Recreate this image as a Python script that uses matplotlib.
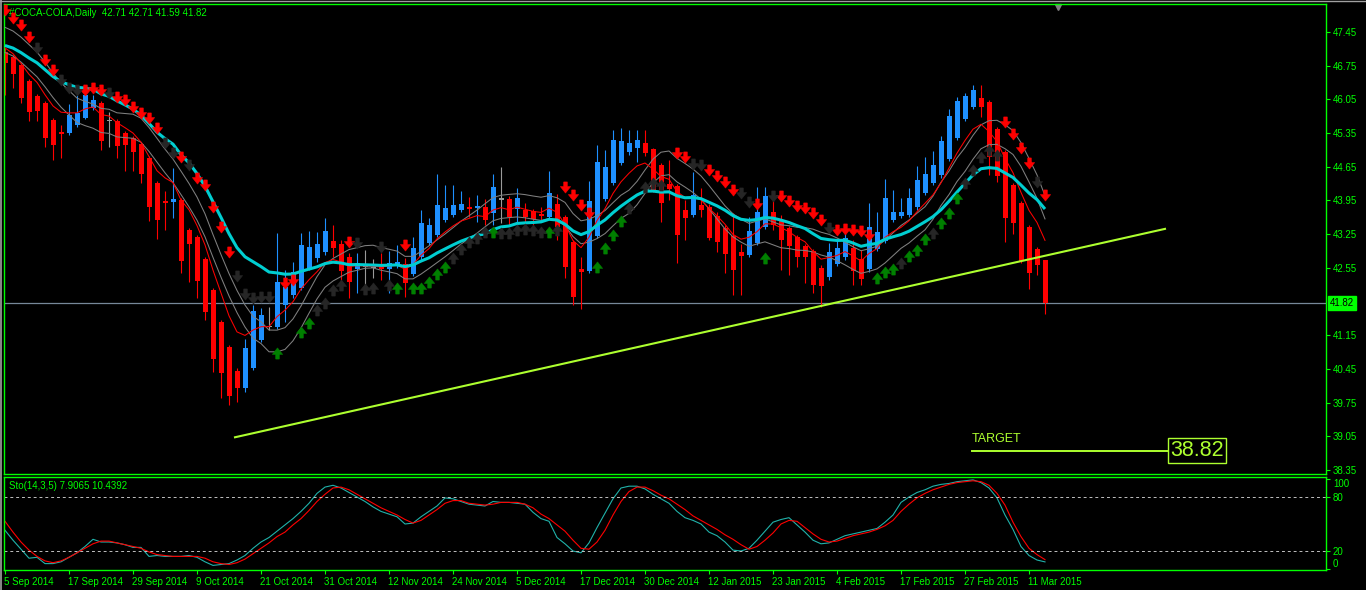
import numpy as np
import pandas as pd
import matplotlib
matplotlib.use("Agg")
import matplotlib.pyplot as plt
from matplotlib.path import Path
from matplotlib.lines import Line2D
import matplotlib.transforms as mtrans

plt.rcParams['font.family'] = ['Liberation Sans', 'DejaVu Sans']

W, H = 1366, 590

# daily bars 5 Sep 2014 .. 13 Mar 2015
symbol = "#COCA-COLA,Daily"
opens = [47.03, 46.93, 46.77, 46.43, 46.12, 45.98, 45.62, 45.37, 45.35, 45.52,
         45.66, 45.87, 45.98, 45.60, 45.60, 45.35, 45.25, 45.12, 44.83, 44.31,
         43.94, 43.92, 43.96, 43.34, 43.19, 42.73, 42.09, 41.42, 40.91, 40.41,
         40.05, 40.47, 41.05, 41.33, 41.32, 41.78, 41.99, 42.13, 42.55, 42.75,
         42.88, 43.11, 43.05, 42.77, 42.53, 42.57, 42.55, 42.63, 42.53, 42.59,
         42.63, 42.42, 42.77, 43.07, 43.23, 43.54, 43.65, 43.75, 43.81, 43.79,
         43.81, 43.69, 43.97, 43.98, 43.77, 43.75, 43.73, 43.67, 43.61, 43.88,
         43.61, 43.09, 42.53, 42.48, 43.21, 43.98, 44.31, 44.73, 44.96, 45.04,
         45.14, 45.02, 44.69, 44.29, 44.25, 43.75, 43.65, 43.86, 43.81, 43.63,
         43.38, 43.21, 42.88, 42.82, 43.07, 43.40, 43.71, 43.54, 43.38, 43.19,
         43.00, 42.90, 42.55, 42.36, 42.63, 42.77, 42.96, 42.73, 42.53, 42.94,
         43.11, 43.54, 43.63, 43.65, 43.81, 44.10, 44.31, 44.48, 44.81, 45.25,
         45.64, 45.89, 46.08, 46.00, 45.43, 44.96, 44.27, 43.90, 43.40, 42.94,
         42.71]
highs = [47.12, 46.97, 46.81, 46.47, 46.16, 46.02, 45.66, 45.52, 45.95, 46.14,
         46.25, 46.14, 46.02, 45.79, 45.64, 45.39, 45.29, 45.16, 44.87, 44.35,
         44.15, 44.62, 44.00, 43.38, 43.23, 42.77, 42.13, 41.47, 40.95, 40.47,
         41.07, 41.78, 41.72, 41.74, 43.27, 42.51, 42.67, 43.27, 43.32, 43.30,
         43.59, 43.44, 43.13, 42.86, 42.86, 42.92, 42.73, 42.86, 42.90, 43.03,
         42.75, 43.19, 43.75, 43.59, 44.50, 44.27, 44.27, 44.15, 44.02, 44.06,
         43.98, 44.50, 44.65, 44.04, 44.21, 43.90, 43.77, 43.81, 44.56, 44.08,
         43.65, 43.13, 42.77, 44.35, 45.10, 45.00, 45.41, 45.46, 45.41, 45.41,
         45.41, 45.04, 44.73, 44.79, 44.29, 43.96, 44.54, 44.21, 43.88, 43.71,
         43.44, 43.69, 43.05, 43.61, 44.23, 44.23, 43.96, 43.65, 43.42, 43.23,
         43.05, 42.94, 42.61, 43.07, 43.13, 43.40, 43.13, 42.92, 43.90, 43.71,
         44.40, 44.17, 44.00, 44.21, 44.66, 44.85, 44.98, 45.29, 45.85, 46.10,
         46.18, 46.35, 46.35, 46.04, 45.48, 45.00, 44.31, 43.94, 43.44, 42.98,
         42.71]
lows = [46.14, 46.29, 45.98, 45.60, 45.60, 45.06, 44.79, 44.83, 45.31, 45.48,
        45.64, 45.83, 45.00, 45.06, 44.83, 44.56, 44.56, 44.31, 43.52, 43.15,
        43.34, 43.59, 42.44, 42.26, 41.92, 41.47, 40.39, 39.85, 39.70, 39.76,
        39.97, 40.43, 41.01, 41.26, 41.28, 41.42, 41.92, 42.09, 42.51, 42.67,
        42.82, 42.77, 42.30, 41.92, 42.03, 42.03, 42.34, 42.30, 42.03, 42.55,
        41.94, 42.38, 42.71, 43.03, 43.19, 43.50, 43.61, 43.71, 43.61, 43.50,
        43.44, 43.44, 43.48, 43.44, 43.40, 43.44, 43.44, 43.50, 43.57, 43.13,
        42.34, 41.78, 41.70, 42.44, 43.17, 43.94, 44.27, 44.69, 44.89, 44.75,
        44.87, 44.13, 43.50, 43.96, 42.65, 43.13, 43.61, 43.61, 43.13, 42.88,
        42.44, 41.99, 41.99, 42.77, 43.03, 43.36, 43.34, 42.51, 42.40, 42.57,
        42.23, 42.03, 41.74, 42.30, 42.59, 42.71, 42.19, 42.19, 42.46, 42.90,
        43.07, 43.50, 43.59, 43.61, 43.75, 44.06, 44.27, 44.42, 44.77, 45.20,
        45.60, 45.85, 45.68, 44.48, 44.33, 43.09, 43.25, 42.65, 42.11, 42.40,
        41.59]
closes = [46.81, 46.58, 46.08, 45.79, 45.81, 45.25, 45.10, 45.33, 45.72, 45.77,
          46.14, 46.04, 45.18, 45.60, 45.08, 45.10, 44.96, 44.50, 43.81, 43.54,
          43.90, 43.98, 42.69, 43.05, 42.28, 41.63, 40.66, 40.37, 39.89, 40.05,
          40.89, 41.65, 41.57, 41.33, 42.26, 42.15, 42.46, 43.03, 42.98, 43.05,
          43.32, 42.96, 42.48, 42.26, 42.65, 42.57, 42.55, 42.53, 42.65, 42.67,
          42.23, 42.96, 43.48, 43.44, 43.86, 43.79, 43.86, 43.88, 43.77, 43.84,
          43.54, 44.23, 43.97, 43.61, 44.00, 43.61, 43.57, 43.63, 44.10, 43.40,
          42.57, 41.94, 42.46, 43.94, 44.75, 44.65, 45.20, 45.18, 45.14, 45.20,
          44.94, 44.17, 43.90, 44.19, 43.23, 43.59, 44.06, 43.75, 43.17, 43.09,
          42.84, 42.51, 42.80, 43.32, 43.71, 44.04, 43.44, 43.13, 43.00, 42.77,
          42.77, 42.19, 42.17, 42.88, 42.96, 43.17, 42.48, 42.32, 43.40, 43.30,
          44.00, 43.71, 43.71, 44.00, 44.38, 44.50, 44.69, 45.18, 45.70, 46.02,
          46.12, 46.25, 45.89, 44.85, 44.46, 43.59, 43.48, 42.69, 42.44, 42.61,
          41.82]

date_ticks = list(range(0, 129, 8))
date_labels = ["5 Sep 2014", "17 Sep 2014", "29 Sep 2014", "9 Oct 2014",
               "21 Oct 2014", "31 Oct 2014", "12 Nov 2014", "24 Nov 2014",
               "5 Dec 2014", "17 Dec 2014", "30 Dec 2014", "12 Jan 2015",
               "23 Jan 2015", "4 Feb 2015", "17 Feb 2015", "27 Feb 2015",
               "11 Mar 2015"]
price_ticks = [47.45, 46.75, 46.05, 45.35, 44.65, 43.95, 43.25, 42.55,
               41.15, 40.45, 39.75, 39.05, 38.35]

# Stochastic(14,3,5)
sto_main = [43, 32, 22, 12, 13, 6, 6, 8, 13, 18, 25, 33, 30, 30, 29, 27, 24, 24, 14, 15,
            14, 14, 14, 15, 13, 8, 4, 5, 6, 10, 15, 23, 30, 35, 42, 49, 56, 64, 73, 84,
            91, 93, 90, 85, 80, 75, 69, 64, 61, 58, 50, 51, 58, 64, 70, 79, 78, 75, 72, 71,
            70, 75, 74, 74, 73, 72, 63, 56, 53, 35, 28, 20, 18, 29, 46, 62, 78, 90, 92, 92,
            89, 83, 78, 73, 64, 57, 54, 50, 41, 37, 30, 21, 20, 23, 32, 42, 52, 55, 57, 49,
            41, 32, 28, 29, 33, 37, 39, 41, 43, 45, 52, 60, 74, 80, 85, 88, 92, 94, 95, 97,
            98, 99, 96, 90, 79, 60, 44, 25, 15, 10, 7.9065]
sto_signal = [53, 41, 30, 21, 14, 9, 7, 9, 13, 18, 23, 28, 31, 31, 29, 27, 25, 23, 19, 16,
              15, 14, 14, 14, 14, 12, 8, 6, 5, 7, 11, 17, 23, 29, 36, 41, 49, 56, 65, 75,
              83, 90, 91, 88, 83, 78, 73, 68, 64, 60, 55, 51, 54, 60, 66, 73, 76, 76, 73, 72,
              71, 72, 74, 74, 74, 72, 68, 61, 56, 49, 42, 32, 23, 22, 30, 43, 60, 75, 86, 91,
              91, 87, 82, 78, 72, 66, 59, 54, 49, 44, 38, 33, 27, 22, 25, 32, 40, 50, 54, 53,
              46, 39, 33, 30, 31, 34, 37, 39, 41, 44, 48, 54, 64, 72, 79, 84, 88, 91, 94, 96,
              97, 98, 97, 93, 84, 71, 52, 36, 23, 16, 10.4392]
sto_levels = [0, 20, 80, 100]

# signal arrows: bar, price, kind (R red / G green / D dark)
dn_bars = [0, 1, 2, 3, 4, 5, 6, 7, 8, 9, 10, 11, 12, 13, 14, 15, 16, 17, 18, 19,
           20, 21, 22, 23, 24, 25, 26, 27, 28, 29, 30, 31, 32, 33, 35, 36, 43, 44, 47, 50,
           70, 71, 72, 73, 84, 85, 86, 87, 88, 89, 90, 91, 92, 93, 94, 96, 97, 98, 99, 100,
           101, 102, 103, 104, 105, 106, 107, 108, 125, 126, 127, 128, 129, 130]
dn_prices = [47.91, 47.74, 47.60, 47.35, 47.12, 46.87, 46.66, 46.45, 46.29, 46.25,
             46.25, 46.29, 46.25, 46.18, 46.10, 46.04, 45.89, 45.77, 45.66, 45.46,
             45.14, 44.94, 44.85, 44.69, 44.42, 44.27, 43.81, 43.40, 42.88, 42.38,
             42.01, 41.92, 41.94, 41.94, 42.23, 42.30, 43.09, 43.07, 42.98, 43.03,
             44.23, 44.06, 43.86, 43.69, 44.94, 44.85, 44.71, 44.69, 44.58, 44.46,
             44.33, 44.17, 44.10, 43.92, 43.88, 44.04, 44.04, 43.94, 43.84, 43.79,
             43.69, 43.54, 43.38, 43.34, 43.36, 43.34, 43.32, 43.23, 45.58, 45.33,
             45.04, 44.73, 44.33, 44.06]
dn_kind = ("RRRRDRRDDD" "RRRDRRRRRR" "DDRDRRRRRD" "DDDD" "RR" "RDDR" "RRRR"
           "RRDDRRRRDD" "R" "D" "RRRRRR" "D" "RRRRR" "RRRRDR")
up_bars = [34, 37, 38, 39, 40, 41, 42, 45, 46, 48, 49, 51, 52, 53, 54, 55, 56, 57, 58, 59,
           60, 61, 62, 63, 64, 65, 66, 67, 68, 69, 74, 75, 76, 77, 78, 80, 81, 82, 95, 109,
           110, 111, 112, 113, 114, 115, 116, 117, 118, 119, 120, 121, 122, 123, 124]
up_prices = [40.78, 41.22, 41.40, 41.67, 41.82, 42.09, 42.19, 42.11, 42.13, 42.19,
             42.13, 42.13, 42.13, 42.26, 42.42, 42.57, 42.75, 42.94, 43.09, 43.17,
             43.30, 43.30, 43.27, 43.27, 43.34, 43.36, 43.34, 43.30, 43.30, 43.34,
             42.57, 42.96, 43.23, 43.52, 43.79, 44.23, 44.31, 44.27, 42.75, 42.34,
             42.46, 42.53, 42.65, 42.80, 42.92, 43.15, 43.27, 43.48, 43.69, 44.00,
             44.31, 44.58, 44.85, 45.00, 44.89]
up_kind = ("GGG" "DDDDDDD" "GGGGGG" "DDDDD" "G" "DDDDDD" "G" "D" "GGGG" "DDDD"
           "G" "GGG" "D" "GGG" "D" "GGG" "DDDDD")

# drawn objects
trend_bars, trend_prices = [28.75, 145.0], [39.03, 43.36]
target_bars, target_level, target_label = [120.9, 145.4], 38.75, "38.82"

LIME = '#00FF00'
BLUE = '#1E90FF'
RED = '#FF0000'
GREEN = '#008000'
DARK = '#262626'
YG = '#ADFF2F'
ARROW_COL = {'R': RED, 'G': GREEN, 'D': DARK}


def ema(vals, period, start):
    a = 2.0 / (period + 1)
    out = [start]
    for v in vals[1:]:
        out.append(out[-1] + a * (v - out[-1]))
    return np.array(out)


o, h, l, c = (np.array(v, dtype=float) for v in (opens, highs, lows, closes))
x = np.arange(len(c))

ema_fast = ema(c, 8, 47.12)
ema_slow = ema(c, 21, 47.17)
pad = np.r_[np.full(9, 47.34), c]
env_mid = pd.Series(pad).rolling(10).mean().to_numpy()[9:]
env_up = env_mid * 1.0055
env_dn = env_mid * 0.9945

fig = plt.figure(figsize=(W / 100, H / 100), dpi=100, facecolor='black')
ax = fig.add_axes([4 / W, 1 - 474 / H, 1322 / W, 470 / H], facecolor='black')
sx = fig.add_axes([4 / W, 1 - 570 / H, 1322 / W, 93 / H], facecolor='black', sharex=ax)

for a in (ax, sx):
    for s in a.spines.values():
        s.set_color(LIME)
        s.set_linewidth(1)

ax.set_xlim(-0.125, 165.125)
ax.set_ylim(38.267, 48.032)
sx.set_ylim(-1.1, 102.2)

# candles
up = c > o
dn = c < o
eq = c == o
wick = np.where(up, BLUE, np.where(dn, RED, '#9a9a9a'))
ax.vlines(x, l, h, colors=wick, lw=0.8, zorder=2)
lo = np.minimum(o, c)
hgt = np.maximum(np.abs(c - o), 0.021)
for m, col in ((up, BLUE), (dn, RED), (eq, '#9a9a9a')):
    ax.bar(x[m], hgt[m], bottom=lo[m], width=0.625, color=col, lw=0, zorder=2)

ax.axhline(c[-1], color='#778899', lw=0.9, zorder=1)

# moving averages
ax.plot(x, env_up, color='#808080', lw=0.75, zorder=3)
ax.plot(x, env_dn, color='#808080', lw=0.75, zorder=3)
ax.plot(x, ema_fast, color=RED, lw=0.75, zorder=3)
ax.plot(x, ema_slow, color='#00CED1', lw=2.2, zorder=3, solid_capstyle='butt')

# arrows
dn_path = Path([(-0.16, 0.5), (0.16, 0.5), (0.16, 0.08), (0.46, 0.08), (0, -0.5),
                (-0.46, 0.08), (-0.16, 0.08), (-0.16, 0.5)], closed=True)
up_path = Path([(px, -py) for px, py in dn_path.vertices], closed=True)
for bars, prices, kinds, path in ((dn_bars, dn_prices, dn_kind, dn_path),
                                  (up_bars, up_prices, up_kind, up_path)):
    bars, prices = np.array(bars), np.array(prices)
    kinds = np.array(list(kinds))
    for k, col in ARROW_COL.items():
        m = kinds == k
        ax.plot(bars[m], prices[m], ls='none', marker=path, ms=8, mfc=col, mec=col,
                mew=0.4, zorder=4)

# trend line and target
ax.plot(trend_bars, trend_prices, color=YG, lw=1.5, zorder=5)
ax.plot(target_bars, [target_level] * 2, color=YG, lw=1.4, zorder=5)
ax.annotate("TARGET", (target_bars[0], target_level), xytext=(0, 4),
            textcoords='offset points', color=YG, fontsize=9, va='bottom', ha='left')
ax.annotate(target_label, (target_bars[1], target_level), xytext=(1.5, 0),
            textcoords='offset points', color=YG, fontsize=15.5, va='center', ha='left',
            family=['Liberation Sans Narrow', 'Liberation Sans'],
            bbox=dict(boxstyle='square,pad=0.1', fc='black', ec=YG, lw=1))

# price axis
ax.yaxis.tick_right()
ax.set_yticks(price_ticks)
ax.set_yticklabels([f"{p:.2f}" for p in price_ticks])
ax.tick_params(axis='y', colors=LIME, length=3, width=0.8, pad=2, labelsize=7)
ax.tick_params(axis='x', bottom=False, labelbottom=False)
ax.annotate(f"{c[-1]:.2f}", (1, c[-1]), xycoords=('axes fraction', 'data'),
            xytext=(3, 0), textcoords='offset points', color='black', fontsize=7,
            va='center', ha='left',
            bbox=dict(boxstyle='square,pad=0.2', fc=LIME, ec=LIME))
ax.text(0.0038, 0.981, f"{symbol}  {o[-1]:.2f} {h[-1]:.2f} {l[-1]:.2f} {c[-1]:.2f}",
        transform=ax.transAxes, color=LIME, fontsize=7, va='center', ha='left')
ax.plot([0.797], [0.994], transform=ax.transAxes, marker='v', ms=5, color='#808080',
        clip_on=False)

# stochastic window
sx.plot(x, sto_main, color='#20B2AA', lw=0.8)
sx.plot(x, sto_signal, color=RED, lw=0.8)
for lvl in (20, 80):
    sx.axhline(lvl, color='#C0C0C0', lw=0.7, ls=(0, (3, 3)))
sx.yaxis.tick_right()
sx.set_yticks(sto_levels)
sx.set_yticklabels([str(v) for v in sto_levels])
sx.tick_params(axis='y', colors=LIME, length=3, width=0.8, pad=2, labelsize=7)
labs = sx.get_yticklabels()
labs[0].set_va('bottom')
labs[-1].set_va('top')
sx.text(0.0038, 0.903, f"Sto(14,3,5) {sto_main[-1]:.4f} {sto_signal[-1]:.4f}",
        transform=sx.transAxes, color=LIME, fontsize=7, va='center', ha='left')

sx.set_xticks(date_ticks)
sx.set_xticklabels(date_labels, ha='left')
sx.tick_params(axis='x', colors=LIME, length=3, width=0.8, pad=2, labelsize=7)
for t in sx.get_xticklabels():
    t.set_transform(t.get_transform() + mtrans.ScaledTranslation(-1 / 100, 0, fig.dpi_scale_trans))

# window edges
fig.add_artist(Line2D([0.0006, 0.0006], [0, 1], color='#a0a0a0', lw=1.2, transform=fig.transFigure))
fig.add_artist(Line2D([0, 1], [0.999, 0.999], color='#a0a0a0', lw=1.0, transform=fig.transFigure))

fig.savefig('out.png', dpi=100, facecolor='black')
